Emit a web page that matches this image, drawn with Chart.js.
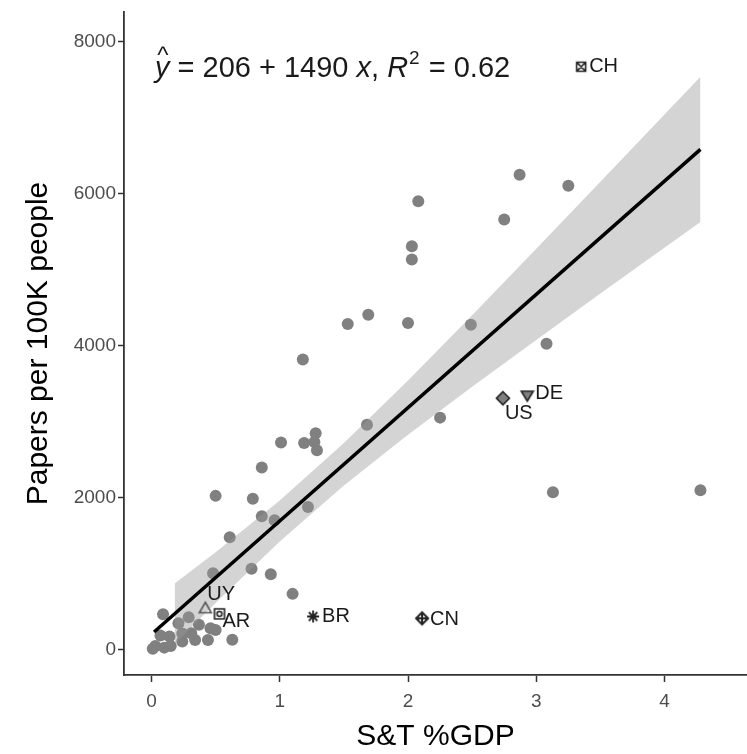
<!DOCTYPE html>
<html><head><meta charset="utf-8">
<script src="https://cdn.jsdelivr.net/npm/chart.js@4/dist/chart.umd.min.js"></script>
<style>html,body{margin:0;padding:0;background:#fff;}</style>
</head><body>
<canvas id="c" width="747" height="754"></canvas>
<script>
// ---- data ----
const xTicks = [0, 1, 2, 3, 4];
const yTicks = [0, 2000, 4000, 6000, 8000];

const grayX = [2.87, 3.25, 2.08, 2.75, 2.03, 2.03, 1.69, 1.53, 2.00, 2.49, 3.08, 1.18, 2.25, 1.68,
  1.01, 1.19, 1.28, 1.27, 1.29, 0.86, 0.50, 0.79, 1.22, 0.86, 0.96, 0.61, 0.78, 0.48, 0.93, 1.10,
  3.13, 4.28,
  0.03, 0.07, 0.09, 0.14, 0.15, 0.21, 0.24, 0.24, 0.29, 0.31, 0.34, 0.37, 0.44, 0.46, 0.50, 0.63, 0.01, 0.10];
const grayY = [6250, 6105, 5900, 5660, 5310, 5135, 4408, 4288, 4300, 4276, 4026, 3820, 3055, 2960,
  2728, 2720, 2851, 2735, 2625, 2400, 2026, 1987, 1880, 1757, 1705, 1483, 1066, 1009, 996, 737,
  2075, 2100,
  50, 190, 470, 175, 50, 350, 215, 110, 430, 220, 130, 330, 130, 285, 263, 135, 15, 30];

const labelNames = ['CH', 'DE', 'US', 'BR', 'CN', 'UY', 'AR'];
const labelX = [3.35, 2.93, 2.74, 1.26, 2.11, 0.42, 0.53];
const labelY = [7670, 3350, 3310, 440, 415, 548, 474];

const fitX = [0.02, 4.28];
const fitY = [236, 6583];

const bandX = [0.18, 0.5, 1.0, 1.5, 2.0, 2.5, 3.0, 3.5, 4.28];
const bandLow = [74, 617, 1426, 2161, 2829, 3461, 4077, 4686, 5628];
const bandHigh = [874, 1285, 1966, 2721, 3543, 4401, 5275, 6156, 7538];

const eqIntercept = '206', eqSlope = '1490', eqR2 = '0.62';

// ---- marker glyphs ----
function marker(kind) {
  const s = 18, c = document.createElement('canvas');
  c.width = s; c.height = s;
  const g = c.getContext('2d'), m = s / 2;
  g.lineWidth = 1.6; g.strokeStyle = '#222'; g.fillStyle = '#7f7f7f';
  g.beginPath();
  if (kind === 'sqx') {
    g.rect(m - 4.5, m - 4.5, 9, 9); g.moveTo(m - 4.5, m - 4.5); g.lineTo(m + 4.5, m + 4.5);
    g.moveTo(m + 4.5, m - 4.5); g.lineTo(m - 4.5, m + 4.5); g.stroke();
  } else if (kind === 'tridown') {
    g.moveTo(m - 6, m - 4); g.lineTo(m + 6, m - 4); g.lineTo(m, m + 6); g.closePath(); g.fill(); g.stroke();
  } else if (kind === 'diamond') {
    g.moveTo(m, m - 6.5); g.lineTo(m + 6.5, m); g.lineTo(m, m + 6.5); g.lineTo(m - 6.5, m); g.closePath(); g.fill(); g.stroke();
  } else if (kind === 'triup') {
    g.strokeStyle = '#555'; g.moveTo(m - 6, m + 4.5); g.lineTo(m + 6, m + 4.5); g.lineTo(m, m - 6); g.closePath(); g.stroke();
  } else if (kind === 'sqdot') {
    g.rect(m - 5, m - 5, 10, 10); g.stroke(); g.beginPath(); g.arc(m, m, 2.5, 0, Math.PI * 2); g.stroke();
  } else if (kind === 'star') {
    for (let k = 0; k < 4; k++) { const a = k * Math.PI / 4; g.moveTo(m - 6 * Math.cos(a), m - 6 * Math.sin(a)); g.lineTo(m + 6 * Math.cos(a), m + 6 * Math.sin(a)); }
    g.lineWidth = 1.8; g.stroke();
  } else if (kind === 'diaplus') {
    g.moveTo(m, m - 6); g.lineTo(m + 6, m); g.lineTo(m, m + 6); g.lineTo(m - 6, m); g.closePath();
    g.moveTo(m - 6, m); g.lineTo(m + 6, m); g.moveTo(m, m - 6); g.lineTo(m, m + 6); g.lineWidth = 2; g.stroke();
  }
  return c;
}
const labelStyles = [marker('sqx'), marker('tridown'), marker('diamond'), marker('star'), marker('diaplus'), marker('triup'), marker('sqdot')];
const labelOffsets = [[8, 0], [8, -2], [2, 15], [9, 0], [8, 1], [2, -14], [3, 8]];

const pts = (xs, ys) => xs.map((x, i) => ({ x: x, y: ys[i] }));
const fam = '"Liberation Sans", Arial, sans-serif';

const labelPlugin = {
  id: 'labels',
  afterDatasetsDraw(chart) {
    const ctx = chart.ctx, xs = chart.scales.x, ys = chart.scales.y;
    ctx.save();
    ctx.fillStyle = '#1a1a1a';
    ctx.font = '20px ' + fam;
    ctx.textBaseline = 'middle'; ctx.textAlign = 'left';
    labelNames.forEach((n, i) => {
      const px = xs.getPixelForValue(labelX[i]), py = ys.getPixelForValue(labelY[i]);
      ctx.fillText(n, px + labelOffsets[i][0], py + labelOffsets[i][1]);
    });
    // regression equation
    let x = 155; const base = 77;
    const seg = (t, f) => { ctx.font = f; ctx.fillText(t, x, base); x += ctx.measureText(t).width; };
    ctx.textBaseline = 'alphabetic';
    ctx.font = 'italic 29px ' + fam;
    const yw = ctx.measureText('y').width;
    ctx.fillText('y', x, base);
    ctx.font = '24px ' + fam;
    ctx.fillText('^', x + yw / 2 - 5, base - 14);
    x += yw;
    seg(' = ' + eqIntercept + ' + ' + eqSlope + ' ', '29px ' + fam);
    seg('x', 'italic 29px ' + fam);
    seg(', ', '29px ' + fam);
    seg('R', 'italic 29px ' + fam);
    ctx.font = '19px ' + fam; ctx.fillText('2', x + 1, base - 13); x += ctx.measureText('2').width + 2;
    seg(' = ' + eqR2, '29px ' + fam);
    ctx.restore();
  }
};

new Chart(document.getElementById('c'), {
  type: 'scatter',
  data: {
    datasets: [
      { data: pts(grayX, grayY), pointRadius: 6, pointHoverRadius: 6, backgroundColor: '#808080', borderWidth: 0, order: 5 },
      { data: pts(bandX, bandHigh), showLine: true, pointRadius: 0, borderWidth: 0, fill: '+1', backgroundColor: 'rgba(153,153,153,0.42)', order: 4 },
      { data: pts(bandX, bandLow), showLine: true, pointRadius: 0, borderWidth: 0, fill: false, order: 4 },
      { data: pts(fitX, fitY), showLine: true, pointRadius: 0, borderColor: '#000', borderWidth: 3.5, order: 2 },
      { data: pts(labelX, labelY), pointStyle: labelStyles, pointRadius: 6, order: 1 }
    ]
  },
  options: {
    responsive: false, animation: false, devicePixelRatio: 1,
    layout: { autoPadding: false, padding: { top: 12, right: 0, left: 0, bottom: 0 } },
    plugins: { legend: { display: false }, tooltip: { enabled: false } },
    scales: {
      x: {
        type: 'linear', min: -0.2144, max: 4.643,
        afterBuildTicks: s => { s.ticks = xTicks.map(v => ({ value: v })); },
        afterFit: s => { s.height = 79; s.paddingLeft = 0; s.paddingRight = 0; },
        grid: { display: true, drawOnChartArea: false, drawTicks: true, tickLength: 7, tickColor: '#333', tickWidth: 1.5 },
        border: { display: true, color: '#333', width: 1.8 },
        ticks: { color: '#4d4d4d', font: { size: 19, family: fam }, padding: 8, maxRotation: 0, autoSkip: false, callback: v => String(v) },
        title: { display: true, text: 'S&T %GDP', color: '#000', font: { size: 30, family: fam }, padding: { top: 0, bottom: -1 } }
      },
      y: {
        type: 'linear', min: -330, max: 8390,
        afterBuildTicks: s => { s.ticks = yTicks.map(v => ({ value: v })); },
        afterFit: s => { s.width = 124; s.paddingTop = 0; s.paddingBottom = 0; },
        grid: { display: true, drawOnChartArea: false, drawTicks: true, tickLength: 6, tickColor: '#333', tickWidth: 1.5 },
        border: { display: true, color: '#333', width: 1.8 },
        ticks: { color: '#4d4d4d', font: { size: 19, family: fam }, padding: 2, autoSkip: false, callback: v => String(v) },
        title: { display: true, text: 'Papers per 100K people', color: '#000', font: { size: 30, family: fam }, padding: { top: 21, bottom: 0 } }
      }
    }
  },
  plugins: [labelPlugin]
});
</script>
</body></html>
